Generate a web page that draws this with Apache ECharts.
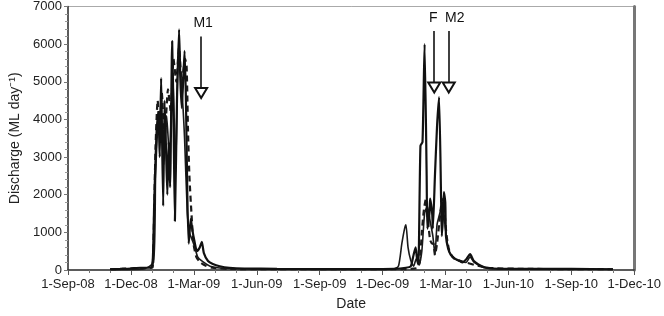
<!DOCTYPE html>
<html>
<head>
<meta charset="utf-8">
<script src="https://cdn.jsdelivr.net/npm/echarts@6/dist/echarts.min.js"></script>
<style>
  html, body { margin: 0; padding: 0; background: #fff; }
  #chart { width: 664px; height: 316px; }
</style>
</head>
<body>
<div id="chart"></div>
<script>
// quarter tick labels on the date axis
var tickLabels = ["1-Sep-08", "1-Dec-08", "1-Mar-09", "1-Jun-09", "1-Sep-09",
  "1-Dec-09", "1-Mar-10", "1-Jun-10", "1-Sep-10", "1-Dec-10"];

// main gauge (solid, thick)
var flowA = [
  ["2008-11-01", 20], ["2008-11-18", 30], ["2008-12-01", 40], ["2008-12-15", 60],
  ["2008-12-30", 60], ["2009-01-02", 300], ["2009-01-04", 1800], ["2009-01-07", 3500],
  ["2009-01-10", 4200], ["2009-01-12", 3000], ["2009-01-14", 5100], ["2009-01-15", 4000],
  ["2009-01-17", 1700], ["2009-01-19", 4500], ["2009-01-21", 3300], ["2009-01-23", 2000],
  ["2009-01-25", 3400], ["2009-01-27", 2200], ["2009-01-30", 6080], ["2009-02-01", 4000],
  ["2009-02-03", 1300], ["2009-02-06", 4500], ["2009-02-09", 6390], ["2009-02-11", 5000],
  ["2009-02-13", 4300], ["2009-02-17", 5820], ["2009-02-19", 4500], ["2009-02-21", 2000],
  ["2009-02-23", 700], ["2009-02-26", 1360], ["2009-02-28", 1100], ["2009-03-03", 800],
  ["2009-03-07", 500], ["2009-03-11", 600], ["2009-03-14", 750], ["2009-03-17", 450],
  ["2009-03-23", 240], ["2009-03-30", 160], ["2009-04-09", 100], ["2009-04-23", 60],
  ["2009-05-15", 40], ["2009-07-01", 30], ["2009-09-01", 25], ["2009-11-01", 25],
  ["2009-12-18", 30], ["2010-01-04", 60], ["2010-01-11", 100], ["2010-01-15", 400],
  ["2010-01-18", 600], ["2010-01-20", 300], ["2010-01-22", 150], ["2010-01-25", 3300],
  ["2010-01-28", 3400], ["2010-01-31", 6000], ["2010-02-03", 2500], ["2010-02-04", 1100],
  ["2010-02-07", 1500], ["2010-02-08", 1900], ["2010-02-11", 1500], ["2010-02-12", 1100],
  ["2010-02-15", 2500], ["2010-02-18", 3800], ["2010-02-21", 4590], ["2010-02-24", 1800],
  ["2010-02-25", 900], ["2010-02-27", 1500], ["2010-02-28", 2070], ["2010-03-02", 1800],
  ["2010-03-03", 900], ["2010-03-06", 580], ["2010-03-10", 400], ["2010-03-16", 300],
  ["2010-03-22", 250], ["2010-03-27", 200], ["2010-04-02", 300], ["2010-04-07", 420],
  ["2010-04-12", 250], ["2010-04-19", 150], ["2010-04-27", 80], ["2010-05-11", 40],
  ["2010-07-01", 30], ["2010-09-01", 30], ["2010-10-31", 20]
];

// second gauge (dashed)
var flowB = [
  ["2008-11-01", 20], ["2008-12-15", 50], ["2009-01-01", 60], ["2009-01-02", 100],
  ["2009-01-04", 1600], ["2009-01-06", 3300], ["2009-01-09", 4500], ["2009-01-12", 3800],
  ["2009-01-15", 4700], ["2009-01-19", 3500], ["2009-01-24", 4800], ["2009-01-28", 4200],
  ["2009-02-01", 5600], ["2009-02-05", 5000], ["2009-02-09", 5900], ["2009-02-13", 5000],
  ["2009-02-18", 5600], ["2009-02-20", 5400], ["2009-02-22", 3700], ["2009-02-24", 2500],
  ["2009-02-27", 1500], ["2009-03-02", 700], ["2009-03-06", 350], ["2009-03-12", 200],
  ["2009-03-19", 120], ["2009-03-29", 60], ["2009-04-20", 30], ["2009-07-01", 20],
  ["2009-10-01", 20], ["2009-12-20", 20], ["2010-01-20", 50], ["2010-01-24", 200],
  ["2010-01-27", 1000], ["2010-01-30", 1600], ["2010-02-02", 1900], ["2010-02-05", 1300],
  ["2010-02-08", 800], ["2010-02-11", 700], ["2010-02-13", 700], ["2010-02-15", 400],
  ["2010-02-18", 700], ["2010-02-21", 1200], ["2010-02-24", 1700], ["2010-02-27", 1900],
  ["2010-03-01", 1500], ["2010-03-04", 900], ["2010-03-08", 500], ["2010-03-15", 300],
  ["2010-04-01", 200], ["2010-05-01", 60], ["2010-07-01", 30], ["2010-10-31", 20]
];

// third gauge (solid, thinner)
var flowC = [
  ["2008-11-01", 10], ["2008-12-20", 30], ["2009-01-03", 200], ["2009-01-06", 2500],
  ["2009-01-10", 4000], ["2009-01-14", 4200], ["2009-01-18", 2800], ["2009-01-22", 4100],
  ["2009-01-26", 3000], ["2009-01-31", 5200], ["2009-02-04", 2600], ["2009-02-08", 5700],
  ["2009-02-13", 4800], ["2009-02-17", 3500], ["2009-02-21", 1500], ["2009-02-24", 1000],
  ["2009-02-28", 800], ["2009-03-03", 650], ["2009-03-08", 350], ["2009-03-14", 240],
  ["2009-03-26", 100], ["2009-04-20", 40], ["2009-08-01", 20], ["2009-12-15", 20],
  ["2009-12-24", 100], ["2009-12-29", 700], ["2010-01-02", 1100], ["2010-01-04", 1200],
  ["2010-01-07", 600], ["2010-01-11", 250], ["2010-01-15", 100], ["2010-01-19", 300],
  ["2010-01-23", 150], ["2010-01-27", 500], ["2010-01-31", 1500], ["2010-02-04", 1700],
  ["2010-02-08", 1300], ["2010-02-12", 900], ["2010-02-15", 400], ["2010-02-18", 1200],
  ["2010-02-22", 1500], ["2010-02-26", 1800], ["2010-03-01", 1300], ["2010-03-06", 600],
  ["2010-03-12", 350], ["2010-03-20", 250], ["2010-04-01", 200], ["2010-04-07", 350],
  ["2010-04-13", 200], ["2010-04-27", 60], ["2010-05-20", 30], ["2010-10-31", 20]
];

// event arrows: label, date, top, tip, label shift
var events = [
  ["M1", "2009-03-13", 6200, 4700, 2],
  ["F", "2010-02-14", 6350, 4850, -1],
  ["M2", "2010-03-07", 6350, 4850, 6]
];

var xMin = Date.parse("2008-09-01");
var xMax = Date.parse("2010-12-01");
var xStep = (xMax - xMin) / (tickLabels.length - 1);

function toTime(arr) {
  return arr.map(function (d) { return [Date.parse(d[0]), d[1]]; });
}

var arrowLines = events.map(function (e) {
  var t = Date.parse(e[1]);
  return [
    { coord: [t, e[2]], label: { formatter: e[0], offset: [e[4], 0] } },
    { coord: [t, e[3]] }
  ];
});

var font = "Liberation Sans, Arial, sans-serif";
var myChart = echarts.init(document.getElementById("chart"));
myChart.setOption({
  animation: false,
  backgroundColor: "#ffffff",
  grid: {
    left: 65,
    right: 21,
    top: 4,
    bottom: 44,
    show: true,
    borderColor: "#aaaaaa",
    borderWidth: 1
  },
  xAxis: {
    type: "value",
    min: xMin,
    max: xMax,
    interval: xStep,
    name: "Date",
    nameLocation: "middle",
    nameGap: 27,
    nameTextStyle: { fontFamily: font, fontSize: 14, color: "#222" },
    axisLine: { lineStyle: { color: "#333", width: 1.5 } },
    axisTick: { length: 5, lineStyle: { color: "#555" } },
    minorTick: { show: true, splitNumber: 3, length: 3, lineStyle: { color: "#777" } },
    splitLine: { show: false },
    axisLabel: {
      fontFamily: font,
      fontSize: 13,
      color: "#222",
      margin: 8,
      formatter: function (v) {
        return tickLabels[Math.round((v - xMin) / xStep)] || "";
      }
    }
  },
  yAxis: [
    {
      type: "value",
      min: 0,
      max: 7000,
      interval: 1000,
      name: "Discharge (ML day\u207B\u00B9)",
      nameLocation: "middle",
      nameGap: 46,
      nameTextStyle: { fontFamily: font, fontSize: 14, color: "#222" },
      axisLine: { show: true, lineStyle: { color: "#333", width: 1.5 } },
      axisTick: { length: 4, lineStyle: { color: "#777" } },
      minorTick: { show: true, splitNumber: 5, length: 3, lineStyle: { color: "#999" } },
      splitLine: { show: false },
      axisLabel: {
        fontFamily: font, fontSize: 13, color: "#222", margin: 6,
        formatter: function (v) { return String(v); }
      }
    },
    {
      type: "value",
      min: 0,
      max: 7000,
      position: "right",
      axisLine: { show: true, lineStyle: { color: "#777", width: 3 } },
      axisTick: { show: false },
      axisLabel: { show: false },
      splitLine: { show: false }
    }
  ],
  series: [
    {
      type: "line",
      data: toTime(flowB),
      showSymbol: false,
      smooth: 0.2,
      lineStyle: { color: "#1a1a1a", width: 2.2, type: [6, 4] },
      z: 2
    },
    {
      type: "line",
      data: toTime(flowC),
      showSymbol: false,
      smooth: 0.2,
      lineStyle: { color: "#1a1a1a", width: 1.6 },
      z: 3
    },
    {
      type: "line",
      data: toTime(flowA),
      showSymbol: false,
      smooth: 0.2,
      lineStyle: { color: "#111", width: 2.2 },
      z: 4,
      markLine: {
        silent: true,
        symbol: ["none", "emptyTriangle"],
        symbolSize: [12, 10],
        lineStyle: { color: "#111", width: 1.6, type: "solid" },
        label: {
          show: true,
          position: "start",
          distance: 4,
          fontFamily: font,
          fontSize: 14,
          color: "#111",
          backgroundColor: "#fff",
          padding: [2, 1]
        },
        data: arrowLines
      }
    }
  ]
});
</script>
</body>
</html>
